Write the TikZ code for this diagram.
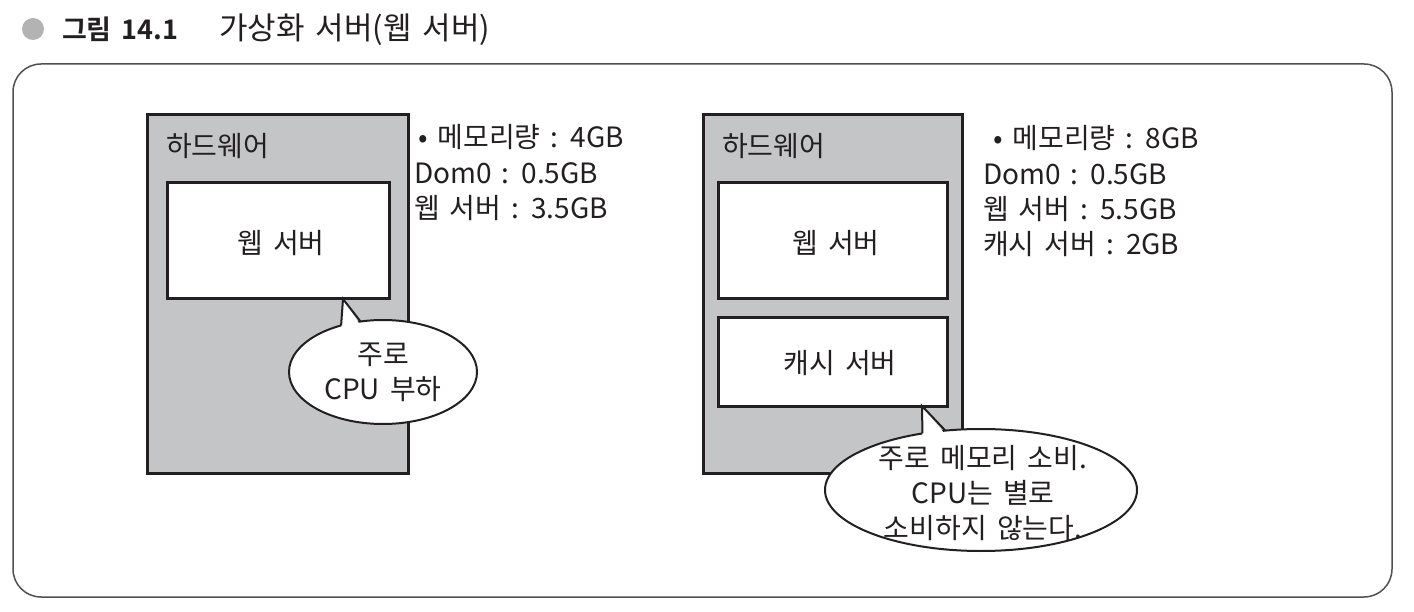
\documentclass[tikz,border=0pt]{standalone}
\usepackage{fontspec}
\setmainfont{Noto Sans CJK KR}[BoldFont={Noto Sans CJK KR Bold}, WordSpace=1.6]
\usetikzlibrary{shapes.geometric,calc}
\definecolor{hwgray}{HTML}{C4C5C7}
\definecolor{ink}{HTML}{231F20}
\definecolor{dotgray}{HTML}{B3B3B3}
\definecolor{framegray}{HTML}{505050}
\begin{document}
\begin{tikzpicture}[x=1pt,y=-1pt,
  every node/.style={inner sep=0pt, outer sep=0pt, text=ink, font=\fontsize{28}{35}\selectfont},
  hwbox/.style={draw=ink, line width=3pt, fill=hwgray, anchor=north west},
  vmbox/.style={draw=ink, line width=3pt, fill=white, anchor=north west},
  bubble/.style={draw=ink, line width=2pt, fill=white, ellipse},
  tail/.style={draw=ink, line width=2pt, line join=miter},
  txt/.style={anchor=base west},
]
\useasboundingbox (0,0) rectangle (1414,612);
% frame
\node[draw=framegray, line width=1.5pt, rounded corners=28pt, minimum width=1379pt, minimum height=533pt, anchor=north west] (frame) at (13,64) {};
% title
\node[circle, fill=dotgray, minimum size=22pt] (dot) at (33,29) {};
\node[txt, font=\fontsize{27}{30}\bfseries] (fig) at (62,40) {그림 14.1};
\node[txt, font=\fontsize{31}{34}\selectfont] (title) at (219,40) {가상화 서버(웹 서버)};

% left server
\node[hwbox, minimum width=261pt, minimum height=358pt] (lhw) at (147,115) {};
\node[txt] (lhwl) at (166,157) {하드웨어};
\node[vmbox, minimum width=222pt, minimum height=116pt] (lweb) at (167,183) {};
\node (lwebl) at (281,243) {웹 서버};
\node[bubble, minimum width=188pt, minimum height=104pt] (lbub) at (383,372) {};
\coordinate (ltip) at (343,299);
\fill[white] ($(lbub.132.9)+(0,4)$) -- (ltip) -- ($(lbub.114.5)+(0,4)$) -- cycle;
\draw[tail] (lbub.132.9) -- (ltip) -- (lbub.114.5);
\node[align=center] (lbubt) at (383,372) {주로\\CPU 부하};
\node[txt] (lm1) at (418,148) {• 메모리량 : 4GB};
\node[txt] (lm2) at (414,184) {Dom0 : 0.5GB};
\node[txt] (lm3) at (414,219) {웹 서버 : 3.5GB};

% right server
\node[hwbox, minimum width=259pt, minimum height=358pt] (rhw) at (703,115) {};
\node[txt] (rhwl) at (722,157) {하드웨어};
\node[vmbox, minimum width=229pt, minimum height=116pt] (rweb) at (718,183) {};
\node (rwebl) at (836,243) {웹 서버};
\node[vmbox, minimum width=229pt, minimum height=88pt] (rcache) at (718,318) {};
\node (rcachel) at (840,363) {캐시 서버};
\node[bubble, minimum width=312pt, minimum height=122pt] (rbub) at (981,490) {};
\coordinate (rtip) at (922,406);
\fill[white] ($(rbub.136.2)+(0,4)$) -- (rtip) -- ($(rbub.121.2)+(0,4)$) -- cycle;
\draw[tail] (rbub.136.2) -- (rtip) -- (rbub.121.2);
\node[align=center] (rbubt) at (983,493) {주로 메모리 소비.\\CPU는 별로\\소비하지 않는다.};
\node[txt] (rm1) at (993,149) {• 메모리량 : 8GB};
\node[txt] (rm2) at (983,185) {Dom0 : 0.5GB};
\node[txt] (rm3) at (983,220) {웹 서버 : 5.5GB};
\node[txt] (rm4) at (983,255) {캐시 서버 : 2GB};
\end{tikzpicture}
\end{document}
